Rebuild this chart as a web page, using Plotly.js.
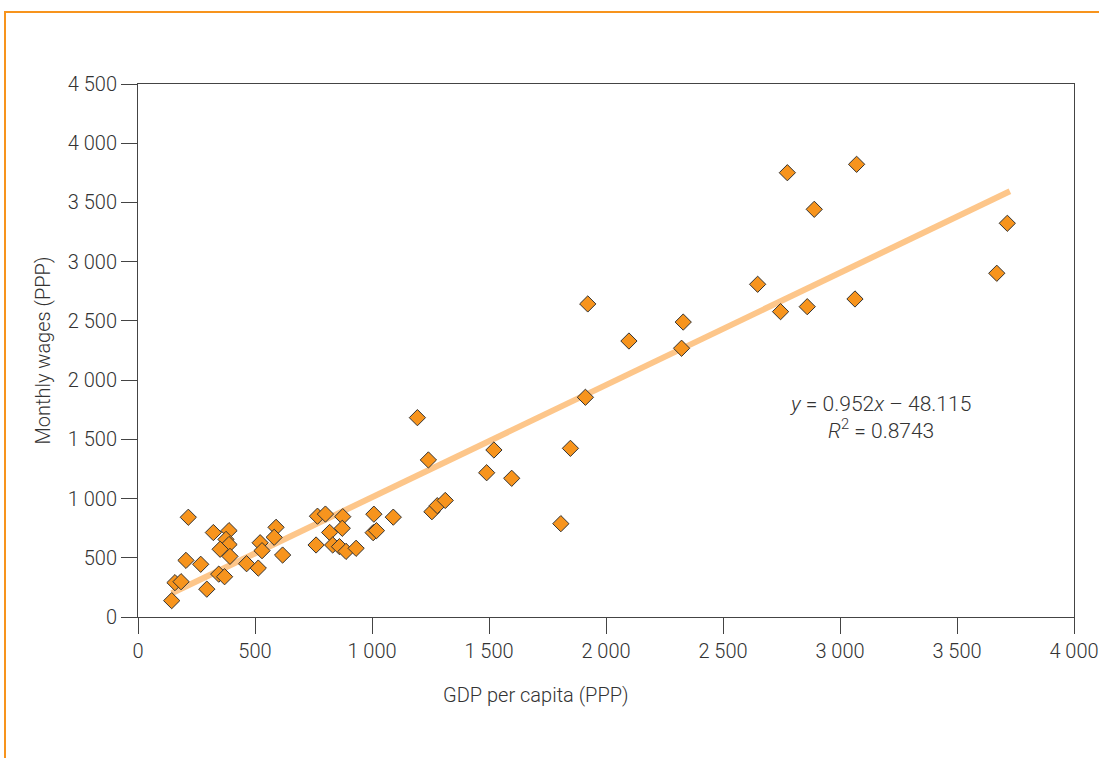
<!DOCTYPE html>
<html>
<head>
<meta charset="utf-8">
<script src="https://cdn.plot.ly/plotly-3.0.1.min.js"></script>
<style>
  html, body { margin: 0; padding: 0; background: #fff; }
  #wrap { position: relative; width: 1099px; height: 758px; }
  #chart { width: 1099px; height: 758px; }
  #frame { position: absolute; left: 4px; top: 11px; width: 1100px; height: 760px;
           border-top: 2px solid #F7941D; border-left: 2px solid #F7941D; pointer-events: none; }
</style>
</head>
<body>
<div id="wrap">
  <div id="chart"></div>
  <div id="frame"></div>
</div>
<script>
// GDP per capita (PPP)
const gdpPerCapita = [
  144, 158, 184, 215, 205, 268, 294, 322, 389, 376,
  389, 351, 393, 345, 370, 464, 514, 522, 530, 590,
  582, 618, 767, 801, 875, 819, 873, 761, 832, 861,
  889, 932, 1008, 1091, 1005, 1019, 1256, 1279, 1313, 1194,
  1241, 1521, 1490, 1597, 1848, 1807, 1912, 1922, 2098, 2330,
  2323, 2775, 3071, 2890, 2648, 2746, 2860, 3064, 3715, 3670
];
// Monthly wages (PPP)
const monthlyWages = [
  138, 290, 298, 842, 478, 445, 235, 713, 729, 655,
  612, 572, 512, 362, 340, 450, 413, 627, 560, 757,
  673, 523, 851, 869, 847, 714, 749, 608, 608, 594,
  554, 580, 868, 843, 712, 729, 889, 940, 984, 1683,
  1326, 1410, 1218, 1171, 1424, 788, 1855, 2643, 2330, 2490,
  2269, 3751, 3822, 3442, 2809, 2578, 2620, 2685, 3324, 2902
];
// Trend line endpoints as drawn
const trendX = [144, 3726];
const trendY = [200, 3594];
const xTickVals = [0, 500, 1000, 1500, 2000, 2500, 3000, 3500, 4000];
const yTickVals = [0, 500, 1000, 1500, 2000, 2500, 3000, 3500, 4000, 4500];

const fontFam = 'Roboto, "Liberation Sans", sans-serif';

const traces = [
  {
    x: trendX, y: trendY, mode: 'lines', type: 'scatter',
    line: { color: '#FDC68A', width: 6 }, hoverinfo: 'skip', showlegend: false
  },
  {
    x: gdpPerCapita, y: monthlyWages, mode: 'markers', type: 'scatter',
    marker: { symbol: 'diamond', size: 12.5, color: '#F7941D', line: { color: '#333', width: 1 } },
    showlegend: false
  }
];

const axisCommon = {
  showgrid: false, zeroline: false, showline: true, mirror: true,
  linecolor: '#444', linewidth: 1,
  ticks: 'outside', ticklen: 16, tickcolor: '#444', tickwidth: 1,
  separatethousands: true,
  tickfont: { family: fontFam, size: 20, color: '#333', weight: 300 }
};

const layout = {
  width: 1099, height: 758,
  margin: { l: 138, r: 25, t: 84, b: 141 },
  paper_bgcolor: '#fff', plot_bgcolor: '#fff',
  separators: '. ',
  showlegend: false,
  xaxis: Object.assign({}, axisCommon, {
    range: [0, 4000], tickmode: 'array', tickvals: xTickVals
  }),
  yaxis: Object.assign({}, axisCommon, {
    range: [0, 4500], tickmode: 'array', tickvals: yTickVals
  }),
  annotations: [
    {
      text: 'GDP per capita (PPP)', xref: 'paper', yref: 'paper',
      x: (536 - 138) / 936, y: -(695 - 617) / 533, xanchor: 'center', yanchor: 'middle',
      showarrow: false, font: { family: fontFam, size: 20, color: '#333', weight: 300 }
    },
    {
      text: 'Monthly wages (PPP)', xref: 'paper', yref: 'paper', textangle: -90,
      x: -(138 - 42) / 936, y: 0.5, xanchor: 'center', yanchor: 'middle',
      showarrow: false, font: { family: fontFam, size: 20, color: '#333', weight: 300 }
    },
    {
      text: '<i>y</i> = 0.952<i>x</i> – 48.115<br><i>R</i><sup>2</sup> = 0.8743',
      xref: 'paper', yref: 'paper',
      x: (880 - 138) / 936, y: (617 - 417) / 533, xanchor: 'center', yanchor: 'middle',
      align: 'center', showarrow: false,
      font: { family: fontFam, size: 21, color: '#333', weight: 300 }
    }
  ]
};

Plotly.newPlot('chart', traces, layout, { displayModeBar: false, staticPlot: true });
</script>
</body>
</html>
